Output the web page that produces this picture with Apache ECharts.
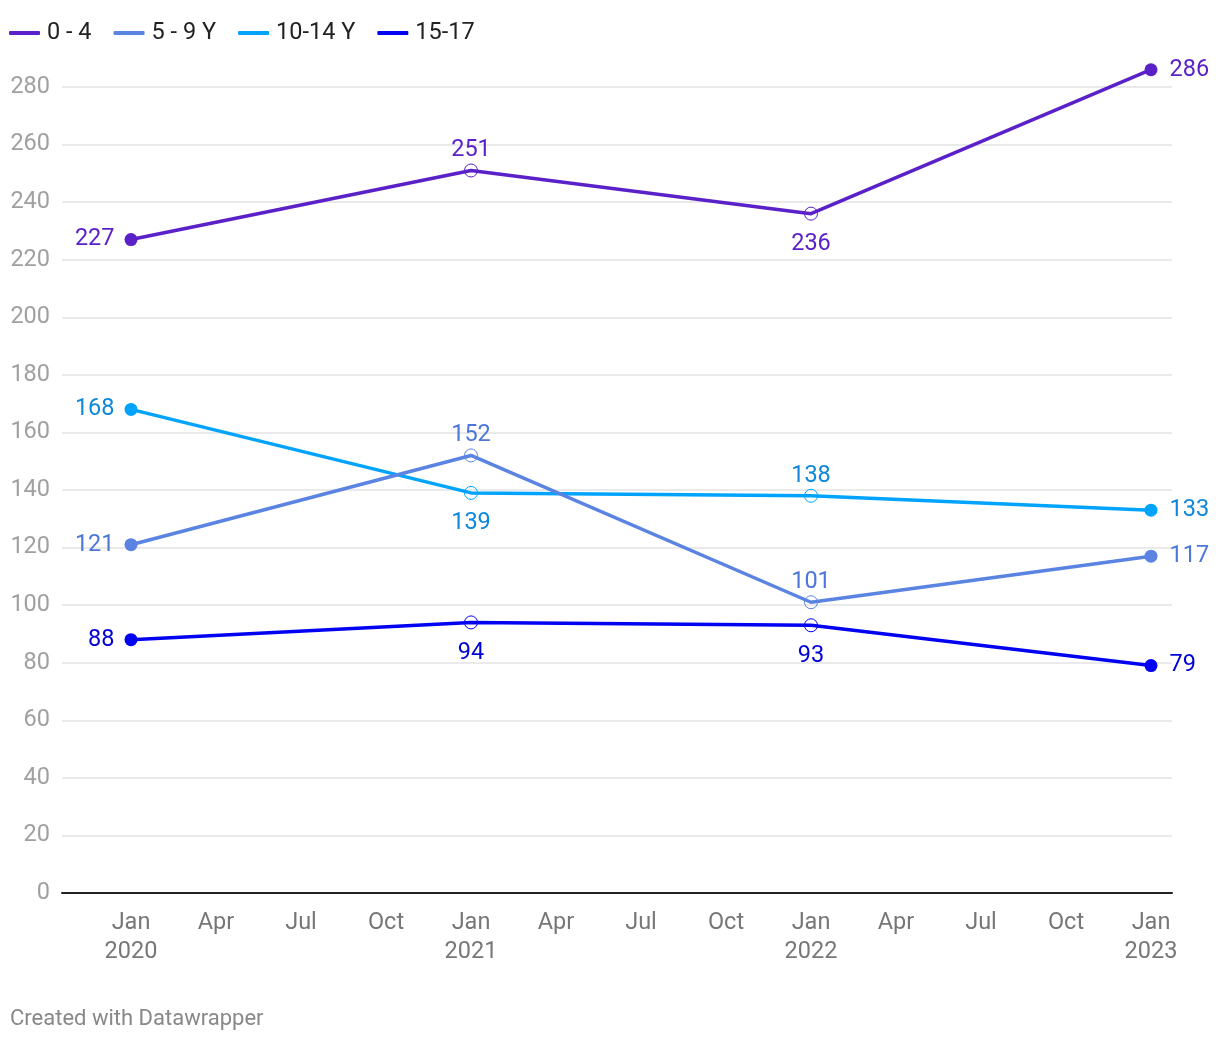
<!DOCTYPE html>
<html>
<head>
<meta charset="utf-8">
<script src="https://cdn.jsdelivr.net/npm/echarts@6/dist/echarts.min.js"></script>
<style>html,body{margin:0;padding:0;background:#fff;}#c{width:1220px;height:1040px;}</style>
</head>
<body>
<div id="c"></div>
<script>
// Month index: 0 = Jan 2020
const dates = ['2020-01', '2021-01', '2022-01', '2023-01'];
const monthIdx = [0, 12, 24, 36];
const seriesNames = ['0 - 4', '5 - 9 Y', '10-14 Y', '15-17'];
const s0_4 = [227, 251, 236, 286];
const s5_9 = [121, 152, 101, 117];
const s10_14 = [168, 139, 138, 133];
const s15_17 = [88, 94, 93, 79];
const yTicks = [0, 20, 40, 60, 80, 100, 120, 140, 160, 180, 200, 220, 240, 260, 280];
const xTickMonths = [0, 3, 6, 9, 12, 15, 18, 21, 24, 27, 30, 33, 36];
const monthNames = ['Jan', 'Feb', 'Mar', 'Apr', 'May', 'Jun', 'Jul', 'Aug', 'Sep', 'Oct', 'Nov', 'Dec'];

const lineColors = ['#5b21c9', '#5a83e2', '#00a4ff', '#0202f2'];
const labelColors = ['#5b21c9', '#4c76da', '#0f88dc', '#0202d8'];
const labelPos = [
  ['left', 'top', 'bottom', 'right'],
  ['left', 'top', 'top', 'right'],
  ['left', 'bottom', 'top', 'right'],
  ['left', 'bottom', 'bottom', 'right']
];
const posDistance = { left: 10, right: 12, top: 1, bottom: 11.5 };
const allValues = [s0_4, s5_9, s10_14, s15_17];

function buildSeries(i) {
  const vals = allValues[i];
  const col = lineColors[i];
  const data = vals.map((v, j) => {
    const end = (j === 0 || j === vals.length - 1);
    const pos = labelPos[i][j];
    return {
      value: [monthIdx[j], v],
      symbolSize: 13,
      itemStyle: end ? { color: col, borderColor: col, borderWidth: 0 }
                     : { color: 'rgba(255,255,255,0)', borderColor: col, borderWidth: 1 },
      label: { position: pos, distance: posDistance[pos] }
    };
  });
  return {
    name: seriesNames[i],
    type: 'line',
    data: data,
    symbol: 'circle',
    clip: false,
    z: i === 1 ? 4 : 3,
    lineStyle: { color: col, width: 3.5 },
    itemStyle: { color: col },
    emphasis: { disabled: true },
    label: {
      show: true,
      color: labelColors[i],
      fontFamily: 'Roboto',
      fontSize: 23.5,
      formatter: p => p.value[1]
    }
  };
}

const chart = echarts.init(document.getElementById('c'), null, { renderer: 'canvas' });
const pxPerMonth = 340 / 12;
chart.setOption({
  animation: false,
  backgroundColor: '#ffffff',
  textStyle: { fontFamily: 'Roboto' },
  legend: {
    left: 4,
    top: 16,
    icon: 'roundRect',
    itemWidth: 31,
    itemHeight: 4,
    itemGap: 22,
    textStyle: { fontSize: 23.5, color: '#222', fontFamily: 'Roboto', padding: [0, 0, 0, 2] },
    data: seriesNames
  },
  grid: { left: 62, right: 48, top: 87, bottom: 147, containLabel: false },
  xAxis: {
    type: 'value',
    min: -(131 - 62) / pxPerMonth,
    max: 36 + (1172 - 1151) / pxPerMonth,
    axisLine: { show: true, lineStyle: { color: '#222', width: 2 } },
    axisTick: { show: false },
    splitLine: { show: false },
    axisLabel: {
      customValues: xTickMonths,
      color: '#777',
      fontSize: 23.5,
      fontFamily: 'Roboto',
      lineHeight: 29,
      margin: 16,
      formatter: function (v) {
        const m = Math.round(v);
        const name = monthNames[((m % 12) + 12) % 12];
        return m % 12 === 0 ? name + '\n' + (2020 + m / 12) : name;
      }
    }
  },
  yAxis: {
    type: 'value',
    min: 0,
    max: 280,
    interval: 20,
    axisLine: { show: false },
    axisTick: { show: false },
    splitLine: { show: true, lineStyle: { color: '#e3e3e3', width: 1.5 } },
    axisLabel: {
      customValues: yTicks,
      color: '#a0a0a0',
      fontSize: 23.5,
      fontFamily: 'Roboto',
      margin: 12
    }
  },
  series: [0, 1, 2, 3].map(buildSeries),
  graphic: [{
    type: 'text',
    left: 10,
    top: 1008,
    style: { text: 'Created with Datawrapper', fill: '#888', fontSize: 22, fontFamily: 'Roboto' }
  }]
});
</script>
</body>
</html>
